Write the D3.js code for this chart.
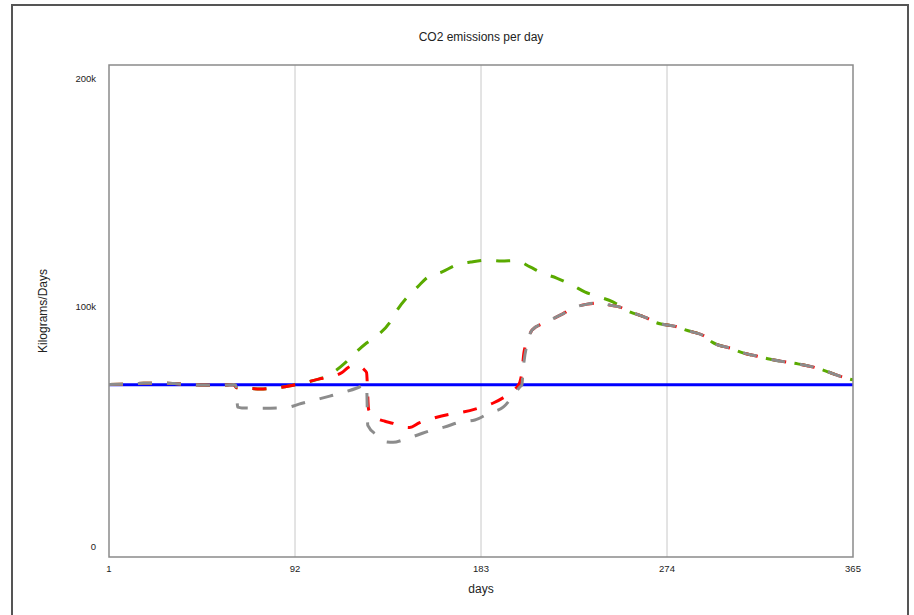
<!DOCTYPE html>
<html>
<head>
<meta charset="utf-8">
<script src="https://cdn.jsdelivr.net/npm/d3@7"></script>
<style>
	body { margin: 0; background: #fff; }
	svg text { font-family: "Liberation Sans", Arial, sans-serif; fill: #222; }
</style>
</head>
<body>
<svg id="chart" width="914" height="615"></svg>
<script>
// x ticks (days) and y ticks (kg/day)
const xTicks = [1, 92, 183, 274, 365];
const yTicks = [0, 100000, 200000];
const yTickLabels = ["0", "100k", "200k"];

// shared start of the dashed runs (days 1..62)
const headDays = [1, 10, 18, 25, 33, 40, 48, 55, 60, 62];
const headVals = [70100, 70300, 70600, 70700, 70500, 70200, 69900, 69800, 70000, 70100];

// shared end of the dashed runs
const tailDays = [254, 264, 268, 279, 283, 293, 296, 306, 310, 320, 324, 335, 338, 349, 353, 363, 365];
const tailVals = [100400, 97200, 95500, 93500, 92300, 89400, 87400, 84600, 83300, 81300, 80500, 78900, 78500, 76400, 75200, 72400, 72000];

// grey run, middle part
const greyDays = [63, 64, 66, 73, 80, 88, 95, 102, 109, 116, 122, 125, 127, 127.6, 132, 137, 140, 145, 152, 159, 165, 173, 180, 187, 194, 199, 202, 203, 203.6, 206, 208, 215, 222, 228, 235, 241, 246, 251];
const greyVals = [69800, 60900, 60600, 60500, 60500, 60800, 62400, 63900, 65400, 67000, 68600, 69600, 70200, 53500, 49600, 46700, 46600, 47600, 49600, 51600, 52800, 54900, 55700, 58500, 61000, 65900, 69100, 70000, 76000, 88000, 92300, 95500, 98400, 101200, 102800, 103300, 102400, 101600];

// red run, middle part
const redDays = [63.5, 67, 75, 81, 89, 96, 104, 110, 115, 118, 121, 124, 126, 127, 128, 130, 132, 136, 140, 144, 148, 153, 160, 168, 174, 182, 189, 196, 200, 202, 203, 204, 206, 208, 215, 222, 228, 235, 241, 246, 251];
const redVals = [68800, 68700, 68300, 68600, 69500, 70700, 72400, 73300, 75000, 77000, 78000, 77400, 76000, 75000, 60000, 57500, 56300, 55200, 54300, 53000, 52600, 54600, 56500, 58100, 58900, 60600, 62600, 65900, 68500, 71000, 75000, 83000, 88500, 92300, 95500, 98400, 101200, 102800, 103300, 102400, 101600];

// green run, middle part
const greenDays = [63.5, 67, 75, 81, 89, 96, 104, 108, 112, 116.5, 121.4, 127, 132.6, 138.5, 142, 147, 152, 157, 164, 171, 178, 186, 193, 200, 207, 213, 220, 227.5, 234, 241, 247.5, 251];
const greenVals = [68800, 68700, 68300, 68600, 69500, 70700, 72400, 73600, 75800, 78900, 82900, 87000, 90200, 95500, 100400, 105700, 109800, 113800, 115900, 118700, 119900, 120700, 120300, 120500, 117900, 115400, 113400, 110600, 107700, 105700, 103700, 102000];

// flat reference run
const blueDays = [1, 365];
const blueVals = [70000, 70000];

function buildRun(days, vals){
	let out = [];
	for(let i = 0; i < days.length; i++){
		out.push({day: days[i], val: vals[i]});
	}
	return out;
}

const series = [
	{ name: "blue", color: "#0000ff", dash: null, width: 3,
	  data: buildRun(blueDays, blueVals) },
	{ name: "green", color: "#5aaa00", dash: "14,15", width: 3,
	  data: buildRun(headDays.concat(greenDays, tailDays), headVals.concat(greenVals, tailVals)) },
	{ name: "red", color: "#ff0000", dash: "14,15", width: 3,
	  data: buildRun(headDays.concat(redDays, tailDays), headVals.concat(redVals, tailVals)) },
	{ name: "grey", color: "#8c8c8c", dash: "14,15", width: 3,
	  data: buildRun(headDays.concat(greyDays, tailDays), headVals.concat(greyVals, tailVals)) }
];

var margin = { top: 65, right: 61, bottom: 58, left: 109 },
	width = 914 - margin.left - margin.right,
	height = 615 - margin.top - margin.bottom;

let svg = d3.select("#chart");

//outer frame
svg.append("rect")
	.attr("x", 12).attr("y", 5)
	.attr("width", 896).attr("height", 620)
	.style("fill", "none")
	.style("stroke", "#555")
	.style("stroke-width", 2);

let g = svg.append("g")
	.attr("transform", "translate(" + margin.left + "," + margin.top + ")");

let x = d3.scaleLinear().domain([1, 365]).range([0, width]);
let y = d3.scaleLinear().domain([0, 200000]).range([height, 0]);

//vertical grid
g.append("g")
	.selectAll("line")
	.data(xTicks.slice(1, -1))
	.enter()
	.append("line")
	.attr("x1", d => x(d)).attr("x2", d => x(d))
	.attr("y1", 0).attr("y2", height)
	.style("stroke", "#c8c8c8")
	.style("stroke-width", 1);

//x tick labels
g.append("g")
	.selectAll("text")
	.data(xTicks)
	.enter()
	.append("text")
	.text(d => d)
	.attr("x", d => x(d))
	.attr("y", height + 15)
	.style("text-anchor", "middle")
	.style("font-size", "9.5px");

//y tick labels, end labels pulled inward like the original
const yShift = [-7, -1, 17];
g.append("g")
	.selectAll("text")
	.data(yTicks)
	.enter()
	.append("text")
	.text((d, i) => yTickLabels[i])
	.attr("x", -13)
	.attr("y", (d, i) => y(d) + yShift[i])
	.style("text-anchor", "end")
	.style("font-size", "9.5px");

//lines
let line = d3.line()
	.x(d => x(d.day))
	.y(d => y(d.val))
	.curve(d3.curveMonotoneX);

g.append("clipPath").attr("id", "plotclip")
	.append("rect").attr("width", width).attr("height", height);

g.append("g")
	.attr("clip-path", "url(#plotclip)")
	.selectAll("path")
	.data(series)
	.enter()
	.append("path")
	.attr("d", d => line(d.data))
	.style("fill", "none")
	.style("stroke", d => d.color)
	.style("stroke-width", d => d.width)
	.style("stroke-dasharray", d => d.dash)
	.style("stroke-linejoin", "round");

//plot frame
g.append("rect")
	.attr("width", width).attr("height", height)
	.style("fill", "none")
	.style("stroke", "#8a8a8a")
	.style("stroke-width", 1.5);

//titles
svg.append("text")
	.text("CO2 emissions per day")
	.attr("x", margin.left + width / 2)
	.attr("y", 41)
	.style("text-anchor", "middle")
	.style("font-size", "12px");

svg.append("text")
	.text("days")
	.attr("x", margin.left + width / 2)
	.attr("y", 593)
	.style("text-anchor", "middle")
	.style("font-size", "12px");

svg.append("text")
	.text("Kilograms/Days")
	.attr("transform", "translate(47," + (margin.top + height / 2) + ") rotate(-90)")
	.style("text-anchor", "middle")
	.style("font-size", "12px");
</script>
</body>
</html>
